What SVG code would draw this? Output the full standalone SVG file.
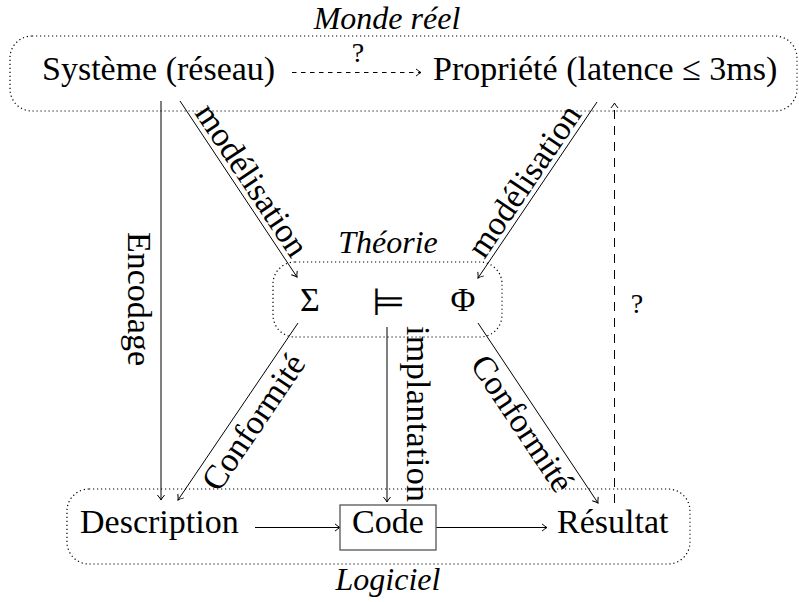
<svg xmlns="http://www.w3.org/2000/svg" width="799" height="602" viewBox="0 0 799 602">
<style>
  text { font-family: "Liberation Serif", "DejaVu Serif", serif; font-size: 34px; fill: #000; }
  .it { font-style: italic; font-size: 32px; }
  .q { font-size: 28px; }
  .mid { text-anchor: middle; }
  .group { fill: none; stroke: #000; stroke-width: 1.2; stroke-dasharray: 1.2 2.8; }
  .edge { fill: none; stroke: #000; stroke-width: 1; marker-end: url(#arr); }
  .dash1 { stroke-dasharray: 4.5 4.5; }
  .dash2 { stroke-dasharray: 9 7; }
  .box { fill: #fff; stroke: #555; stroke-width: 1.3; }
  .models { font-family: "DejaVu Sans ExtraLight", "DejaVu Sans", sans-serif; font-weight: 200; font-size: 38px; }
</style>
<defs>
  <marker id="arr" markerUnits="userSpaceOnUse" markerWidth="12" markerHeight="12" viewBox="-8 -6 10 12" refX="0" refY="0" orient="auto">
    <path d="M-5,-3.6 Q-1.5,-0.6 0,0 Q-1.5,0.6 -5,3.6" fill="none" stroke="#000" stroke-width="1"/>
  </marker>
</defs>

<g id="groups">
  <rect class="group" x="10" y="36" width="787" height="75" rx="22"/>
  <rect class="group" x="273" y="262" width="229" height="75" rx="22"/>
  <rect class="group" x="67" y="489" width="623" height="75" rx="22"/>
  <text class="it mid" x="387" y="29">Monde réel</text>
  <text class="it mid" x="388" y="253">Théorie</text>
  <text class="it mid" x="388" y="590">Logiciel</text>
</g>

<g id="connectors">
  <line class="edge dash1" x1="292" y1="72.5" x2="421" y2="72.5"/>
  <text class="q mid" x="358" y="62">?</text>
  <line class="edge dash2" x1="614.5" y1="503" x2="614.5" y2="103"/>
  <text class="q mid" x="637" y="313">?</text>

  <line class="edge" x1="161" y1="101" x2="161" y2="500"/>
  <text class="mid" transform="translate(127.5,299) rotate(90)">Encodage</text>

  <line class="edge" x1="180" y1="101" x2="297" y2="277"/>
  <text class="mid" transform="translate(242.7,186.2) rotate(56.4)">modélisation</text>

  <line class="edge" x1="597" y1="102" x2="478" y2="278"/>
  <text class="mid" transform="translate(533.4,187.2) rotate(-55.9)">modélisation</text>

  <line class="edge" x1="298" y1="323" x2="178" y2="500"/>
  <text class="mid" transform="translate(262.8,428.3) rotate(-55.9)">Conformité</text>

  <line class="edge" x1="478" y1="323" x2="598" y2="503"/>
  <text class="mid" transform="translate(513,429.7) rotate(56.3)">Conformité</text>

  <line class="edge" x1="387" y1="327" x2="387" y2="502"/>
  <text class="mid" transform="translate(407,414) rotate(90)" textLength="176" lengthAdjust="spacing">implantation</text>

  <line class="edge" x1="255" y1="527.5" x2="340" y2="527.5"/>
  <line class="edge" x1="436" y1="527.5" x2="547" y2="527.5"/>
</g>

<g id="systeme"><text x="42" y="80">Système (réseau)</text></g>
<g id="propriete"><text x="433" y="80">Propriété (latence ≤ 3ms)</text></g>
<g id="sigma"><text class="mid" x="310" y="311">Σ</text></g>
<g id="models"><text class="mid models" x="388" y="315">⊨</text></g>
<g id="phi"><text class="mid" x="463" y="311">Φ</text></g>
<g id="description"><text x="80" y="533">Description</text></g>
<g id="code"><rect class="box" x="340" y="505" width="96" height="45"/><text class="mid" x="388" y="533">Code</text></g>
<g id="resultat"><text x="557" y="533">Résultat</text></g>
</svg>
